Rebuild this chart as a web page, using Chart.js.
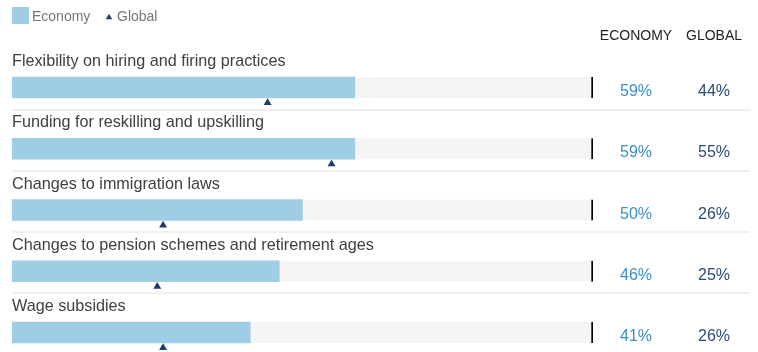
<!DOCTYPE html>
<html>
<head>
<meta charset="utf-8">
<script src="https://cdn.jsdelivr.net/npm/chart.js@4/dist/chart.umd.min.js"></script>
<style>
  html, body { margin: 0; padding: 0; background: #ffffff; }
  #wrap { position: relative; width: 758px; height: 352px; }
</style>
</head>
<body>
<div id="wrap"><canvas id="c" width="758" height="352"></canvas></div>
<script>
// ---- data ----
const categories = [
  "Flexibility on hiring and firing practices",
  "Funding for reskilling and upskilling",
  "Changes to immigration laws",
  "Changes to pension schemes and retirement ages",
  "Wage subsidies"
];
const economyValues = [59, 59, 50, 46, 41];
const globalValues = [44, 55, 26, 25, 26];
const scaleMax = 100;
const seriesNames = ["Economy", "Global"];
const columnHeaders = ["ECONOMY", "GLOBAL"];

// ---- style ----
const FONT = '"Liberation Sans", Arial, Helvetica, sans-serif';
const COL_ECON = '#a0cde6';
const COL_TRACK = '#f5f5f5';
const COL_GLOBAL = '#1f3d6b';
const COL_ECON_TXT = '#3b8fca';
const COL_GLOBAL_TXT = '#2b4a7a';
const ROW_PITCH = 61.25;
const FIRST_CENTER = 87.5;
const H = 352;
const TRI_OFFSET = 0.25; // fraction of a row below the bar centre

const yMin = -FIRST_CENTER / ROW_PITCH;
const yMax = yMin + H / ROW_PITCH;

const econData = economyValues.map((v, i) => ({ x: v, y: i }));
const trackData = categories.map((c, i) => ({ x: scaleMax, y: i }));
const globalData = globalValues.map((v, i) => ({ x: v, y: i + TRI_OFFSET }));

const overlay = {
  id: 'overlay',
  beforeDatasetsDraw(chart) {
    const ctx = chart.ctx;
    const ys = chart.scales.y;
    ctx.save();
    ctx.fillStyle = '#eeeeee';
    categories.forEach((c, i) => {
      const yc = ys.getPixelForValue(i);
      ctx.fillRect(12, Math.round(yc + 21), 738, 2);
    });
    ctx.restore();
  },
  afterDatasetsDraw(chart) {
    const ctx = chart.ctx;
    const ys = chart.scales.y;
    ctx.save();
    // legend
    ctx.fillStyle = COL_ECON;
    ctx.fillRect(12, 7, 17, 17);
    ctx.fillStyle = '#777777';
    ctx.font = '14px ' + FONT;
    ctx.textAlign = 'left';
    ctx.textBaseline = 'alphabetic';
    ctx.fillText(seriesNames[0], 32, 20.5);
    ctx.fillStyle = COL_GLOBAL;
    ctx.beginPath();
    ctx.moveTo(109, 13.8);
    ctx.lineTo(112.2, 19.3);
    ctx.lineTo(105.8, 19.3);
    ctx.closePath();
    ctx.fill();
    ctx.fillStyle = '#777777';
    ctx.fillText(seriesNames[1], 117, 20.5);
    // headers
    ctx.fillStyle = '#222222';
    ctx.font = '14px ' + FONT;
    ctx.textAlign = 'center';
    ctx.fillText(columnHeaders[0], 636, 40);
    ctx.fillText(columnHeaders[1], 714, 40);
    // rows
    categories.forEach((c, i) => {
      const yc = ys.getPixelForValue(i);
      ctx.textAlign = 'left';
      ctx.fillStyle = '#404040';
      ctx.font = '16.2px ' + FONT;
      ctx.fillText(c, 12, yc - 21.5);
      ctx.textAlign = 'center';
      ctx.font = '16px ' + FONT;
      ctx.fillStyle = COL_ECON_TXT;
      ctx.fillText(economyValues[i] + '%', 636, yc + 8.5);
      ctx.fillStyle = COL_GLOBAL_TXT;
      ctx.fillText(globalValues[i] + '%', 714, yc + 8.5);
    });
    ctx.restore();
  }
};

new Chart(document.getElementById('c'), {
  type: 'bar',
  data: {
    datasets: [
      {
        type: 'scatter',
        label: seriesNames[1],
        data: globalData,
        pointStyle: 'triangle',
        radius: 4.6,
        pointRadius: 4.6,
        backgroundColor: COL_GLOBAL,
        borderWidth: 0,
        order: 0
      },
      {
        label: seriesNames[0],
        indexAxis: 'y',
        data: econData,
        backgroundColor: COL_ECON,
        borderWidth: 0,
        barThickness: 21,
        grouped: false,
        order: 1
      },
      {
        label: 'track',
        indexAxis: 'y',
        data: trackData,
        backgroundColor: COL_TRACK,
        borderColor: '#000000',
        borderWidth: { right: 2, left: 0, top: 0, bottom: 0 },
        borderSkipped: false,
        barThickness: 21,
        grouped: false,
        order: 2
      }
    ]
  },
  options: {
    responsive: false,
    animation: false,
    events: [],
    layout: { autoPadding: false, padding: { left: 12, right: 165, top: 0, bottom: 0 } },
    plugins: { legend: { display: false }, tooltip: { enabled: false } },
    scales: {
      x: { axis: 'x', type: 'linear', min: 0, max: scaleMax, display: false, offset: false },
      y: { axis: 'y', type: 'linear', min: yMin, max: yMax, reverse: true, display: false, offset: false }
    }
  },
  plugins: [overlay]
});
</script>
</body>
</html>
